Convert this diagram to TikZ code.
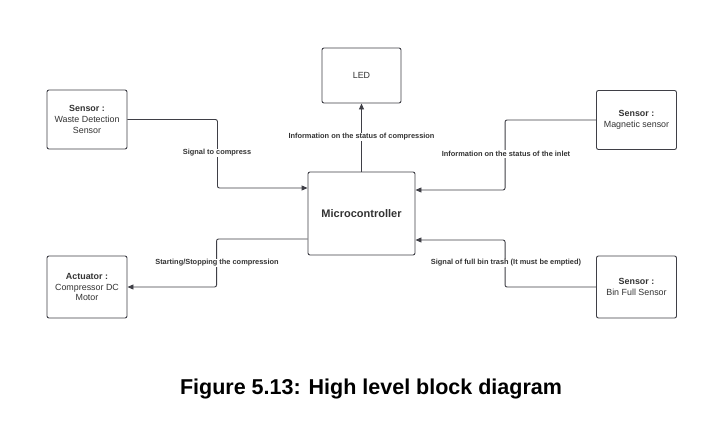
\documentclass[tikz,border=0pt]{standalone}
\usepackage{fontspec}
\setmainfont{Liberation Sans}
\usetikzlibrary{arrows.meta}
\definecolor{linegray}{HTML}{3F3F46}
\definecolor{txtgray}{HTML}{333333}
\tikzset{
  block/.style={draw=linegray, line width=0.9pt, rounded corners=2pt, fill=white,
    align=center, text=txtgray, font=\fontsize{8.9}{10.7}\selectfont,
    minimum width=80pt, minimum height=59pt, inner sep=1pt},
  conn/.style={draw=linegray, line width=0.9pt, rounded corners=2pt,
    -{Triangle[length=6pt,width=5pt]}},
  lbl/.style={fill=white, inner sep=1pt, text=txtgray,
    font=\bfseries\fontsize{7.4}{9}\selectfont}
}
\begin{document}
\begin{tikzpicture}[x=1pt, y=-1pt]
    \useasboundingbox[fill=white] (0,0) rectangle (724,434);

    % Blocs
    \node[block, minimum width=107pt, minimum height=83pt,
      font=\bfseries\fontsize{11}{13}\selectfont] (micro) at (361.5,213.5) {Microcontroller};
    \node[block, minimum width=79pt, minimum height=55pt] (led) at (361.5,75.5) {LED};
    \node[block] (waste) at (87,119.5) {\textbf{Sensor :}\\Waste Detection\\Sensor};
    \node[block] (mag) at (636.5,120) {\textbf{Sensor :}\\Magnetic sensor};
    \node[block, minimum height=62pt] (act) at (87,287) {\textbf{Actuator :}\\Compressor DC\\Motor};
    \node[block, minimum height=62pt] (bin) at (636.5,287) {\textbf{Sensor :}\\Bin Full Sensor};

    % Liaisons
    \draw[conn] (waste.east) -- ++(90,0) |- ([yshift=25.5pt]micro.west);
    \draw[conn] (mag.west) -- ++(-91,0) |- ([yshift=23.5pt]micro.east);
    \draw[conn] (micro.north) -- (led.south);
    \draw[conn] ([yshift=-25.5pt]micro.west) -- ++(-91,0) |- (act.east);
    \draw[conn] (bin.west) -- ++(-91,0) |- ([yshift=-26.5pt]micro.east);

    % Etiquettes
    \node[lbl] (l1) at (217,153) {Signal to compress};
    \node[lbl] (l2) at (361.5,137) {Information on the status of compression};
    \node[lbl] (l3) at (506,154) {Information on the status of the inlet};
    \node[lbl] (l4) at (217,263) {Starting/Stopping the compression};
    \node[lbl] (l5) at (506,263) {Signal of full bin trash (It must be emptied)};

    % Legende
    \node[font=\bfseries\fontsize{21.5}{24}\selectfont] (cap) at (371,389) {Figure 5.13: High level block diagram};
\end{tikzpicture}
\end{document}
